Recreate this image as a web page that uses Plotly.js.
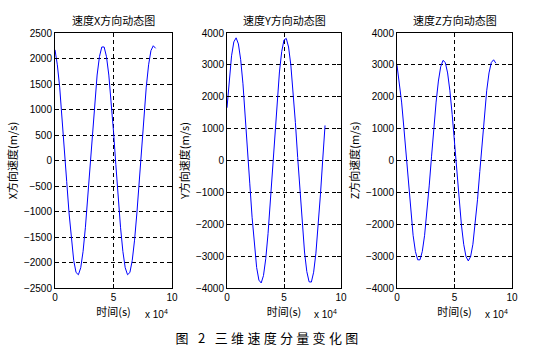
<!DOCTYPE html>
<html>
<head>
<meta charset="utf-8">
<script src="https://cdn.plot.ly/plotly-3.0.1.min.js"></script>
<style>html,body{margin:0;padding:0;background:#fff;}#chart{width:542px;height:358px;}</style>
</head>
<body>
<div id="chart"></div>
<script>
// time samples (s)
const timeS = [0,2000,4000,6000,8000,10000,12000,14000,16000,18000,20000,22000,24000,26000,28000,30000,32000,34000,36000,38000,40000,42000,44000,46000,48000,50000,52000,54000,56000,58000,60000,62000,64000,66000,68000,70000,72000,74000,76000,78000,80000,82000,84000,86000];
// velocity X (m/s)
const velX = [2170,1876,1439,880,246,-409,-1029,-1562,-1962,-2196,-2240,-2102,-1781,-1309,-727,-82,569,1172,1676,2037,2226,2226,2037,1675,1172,569,-82,-726,-1309,-1781,-2102,-2240,-2196,-1962,-1562,-1029,-409,246,880,1439,1876,2155,2250,2200];
// velocity Y (m/s)
const velY = [1654,2576,3284,3721,3848,3657,3163,2406,1450,374,-733,-1779,-2678,-3355,-3754,-3842,-3611,-3081,-2296,-1321,-236,869,1901,2778,3421,3782,3830,3561,2997,2183,1189,97,-1004,-2021,-2871,-3483,-3806,-3814,-3505,-2906,-2067,-1056,42,1100];
// velocity Z (m/s)
const velZ = [2990,2493,1833,1017,115,-797,-1641,-2346,-2852,-3116,-3116,-2852,-2346,-1641,-797,115,1017,1833,2493,2942,3141,3075,2747,2186,1440,572,-344,-1232,-2015,-2627,-3016,-3150,-3016,-2627,-2015,-1232,-345,572,1440,2187,2747,3074,3160,3050];

const xTickVals = [0,50000,100000];
const xTickText = ['0','5','10'];
const yTicks1 = [-2500,-2000,-1500,-1000,-500,0,500,1000,1500,2000,2500];
const yTicks2 = [-4000,-3000,-2000,-1000,0,1000,2000,3000,4000];
const panelTitles = ['速度X方向动态图','速度Y方向动态图','速度Z方向动态图'];
const yTitles = ['X方向速度(m/s)','Y方向速度(m/s)','Z方向速度(m/s)'];
const xTitle = '时间(s)';
const caption = '图 2 三维速度分量变化图';

const W = 542, H = 358;
const px = v => v / W, py = v => 1 - v / H;
const xDomains = [[55,172],[227,341],[397,512]];
const yDom = [py(288), py(33)];

const tickFont = {family:'Liberation Sans, Arial, sans-serif', size:10, color:'#000'};
const cjkFont = {family:'Noto Sans CJK SC, sans-serif', size:11, color:'#000'};

const series = [velX, velY, velZ];
const traces = series.map((v,i) => ({
  x: timeS, y: v, type:'scatter', mode:'lines',
  line:{color:'#0000ff', width:1},
  xaxis: i===0?'x':'x'+(i+1), yaxis: i===0?'y':'y'+(i+1),
  hoverinfo:'skip', showlegend:false
}));

const layout = {
  width:W, height:H, margin:{l:0,r:0,t:0,b:0},
  paper_bgcolor:'#fff', plot_bgcolor:'#fff', showlegend:false,
  annotations:[]
};
for (let i=0;i<3;i++){
  const sx = i===0?'':String(i+1);
  layout['xaxis'+sx] = {
    domain:[px(xDomains[i][0]), px(xDomains[i][1])], anchor:'y'+sx,
    range:[0,100000], tickvals:xTickVals, ticktext:xTickText,
    ticks:'inside', ticklen:4, tickcolor:'#000',
    showline:true, mirror:'ticks', linecolor:'#000', linewidth:1,
    showgrid:true, gridcolor:'#000', griddash:'4px,3px', gridwidth:1,
    zeroline:false, tickfont:tickFont,
    title:{text:xTitle, font:cjkFont, standoff:2}
  };
  layout['yaxis'+sx] = {
    domain:yDom, anchor:'x'+sx,
    range: i===0?[-2500,2500]:[-4000,4000],
    tickvals: i===0?yTicks1:yTicks2,
    ticks:'inside', ticklen:4, tickcolor:'#000',
    showline:true, mirror:'ticks', linecolor:'#000', linewidth:1,
    showgrid:true, gridcolor:'#000', griddash:'4px,3px', gridwidth:1,
    zeroline:false, tickfont:tickFont,
    title:{text:yTitles[i], font:cjkFont, standoff:4}
  };
  const cx = (xDomains[i][0]+xDomains[i][1])/2;
  layout.annotations.push({
    text:panelTitles[i], x:px(cx), y:py(20), xref:'paper', yref:'paper',
    showarrow:false, font:cjkFont, xanchor:'center', yanchor:'middle'
  });
  layout.annotations.push({
    text:'x 10<sup>4</sup>', x:px(xDomains[i][1]-2), y:py(314), xref:'paper', yref:'paper',
    showarrow:false, font:{family:'Liberation Sans, Arial, sans-serif', size:10, color:'#000'},
    xanchor:'right', yanchor:'middle'
  });
}
layout.annotations.push({
  text:caption, x:px(268), y:py(337), xref:'paper', yref:'paper',
  showarrow:false, font:{family:'Noto Sans CJK SC, sans-serif', size:13, color:'#000'},
  xanchor:'center', yanchor:'middle'
});

Plotly.newPlot('chart', traces, layout, {staticPlot:true}).then(gd => {
  gd.querySelectorAll('.annotation-text').forEach(t => {
    if (t.textContent === caption) t.style.letterSpacing = '3.3px';
  });
});
</script>
</body>
</html>
